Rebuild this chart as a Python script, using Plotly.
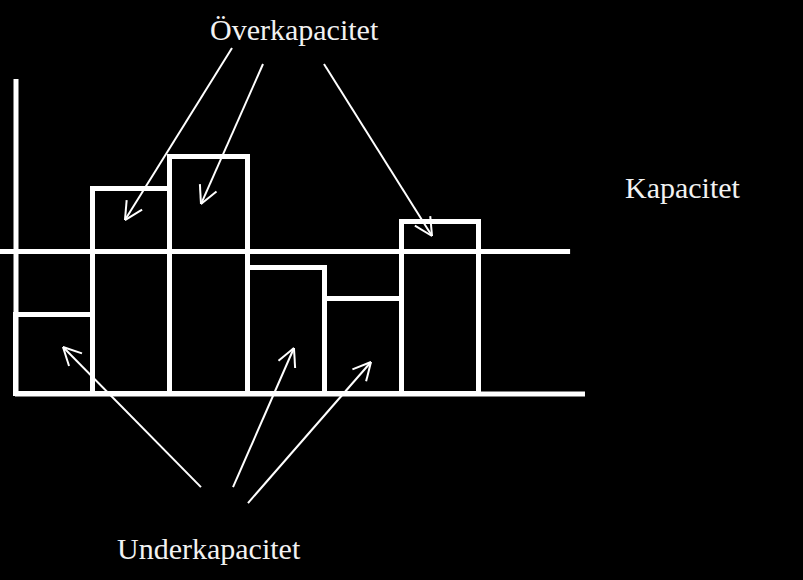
import numpy as np
import plotly.graph_objects as go

# ---- data ----
periods = [1, 2, 3, 4, 5, 6]
demand = [55.8, 143.9, 166.0, 88.4, 66.7, 121.0]
capacity = 100.0
yaxis_top = 221.0

label_over = "Överkapacitet"
label_under = "Underkapacitet"
label_cap = "Kapacitet"

# arrows: (tail_x, tail_y, tip_x, tip_y) in data units
over_arrows = [
    (3.299, 242.8, 1.912, 122.1),
    (3.701, 231.6, 2.897, 133.3),
    (4.491, 231.6, 5.891, 110.9),
]
under_arrows = [
    (2.897, -65.3, 1.109, 33.0),
    (3.312, -65.3, 4.102, 32.3),
    (3.506, -76.5, 5.100, 22.5),
]

# ---- layout constants ----
W, H = 803, 580
XR = [0.2927, 10.698]
YR = [-130.5, 276.5]
sx = W / (XR[1] - XR[0])
sy = H / (YR[1] - YR[0])

fig = go.Figure()

fig.add_trace(go.Bar(
    x=periods, y=demand, width=1,
    marker=dict(color="rgba(0,0,0,0)", line=dict(color="white", width=5)),
    hoverinfo="skip",
))

# capacity line
fig.add_trace(go.Scatter(
    x=[XR[0], 7.68], y=[capacity, capacity], mode="lines",
    line=dict(color="white", width=5), hoverinfo="skip",
))
# baseline (x axis)
fig.add_trace(go.Scatter(
    x=[0.487, 7.873], y=[0, 0], mode="lines",
    line=dict(color="white", width=5), hoverinfo="skip",
))
# y axis
fig.add_trace(go.Scatter(
    x=[0.5, 0.5], y=[0, yaxis_top], mode="lines",
    line=dict(color="white", width=5), hoverinfo="skip",
))

# arrows with open V heads
head_len = 20.0
half_ang = np.deg2rad(27)
for (x0, y0, x1, y1) in over_arrows + under_arrows:
    dxp = (x1 - x0) * sx
    dyp = (y1 - y0) * sy
    ang = np.arctan2(dyp, dxp)
    xs = [x0, x1, None]
    ys = [y0, y1, None]
    for s in (+1, -1):
        a = ang + np.pi + s * half_ang
        hx = x1 + head_len * np.cos(a) / sx
        hy = y1 + head_len * np.sin(a) / sy
        xs += [x1, hx, None]
        ys += [y1, hy, None]
    fig.add_trace(go.Scatter(
        x=xs, y=ys, mode="lines",
        line=dict(color="white", width=2), hoverinfo="skip",
    ))

font = dict(family="Liberation Serif, Times New Roman, serif", size=30, color="#f2f2f2")
fig.add_annotation(text=label_over, xref="paper", yref="paper",
                   x=294.5 / W, y=1 - 30 / H, showarrow=False, font=font,
                   xanchor="center", yanchor="middle")
fig.add_annotation(text=label_cap, xref="paper", yref="paper",
                   x=683 / W, y=1 - 187 / H, showarrow=False, font=font,
                   xanchor="center", yanchor="middle")
fig.add_annotation(text=label_under, xref="paper", yref="paper",
                   x=209 / W, y=1 - 548 / H, showarrow=False, font=font,
                   xanchor="center", yanchor="middle")

fig.update_layout(
    width=W, height=H,
    margin=dict(l=0, r=0, t=0, b=0),
    paper_bgcolor="black", plot_bgcolor="black",
    showlegend=False, bargap=0,
    xaxis=dict(range=XR, visible=False, fixedrange=True),
    yaxis=dict(range=YR, visible=False, fixedrange=True),
    hovermode=False,
)

fig.write_html(
    "out.html",
    config={"displayModeBar": False},
    post_script="document.body.style.margin='0';document.body.style.overflow='hidden';document.body.style.background='black';",
)
